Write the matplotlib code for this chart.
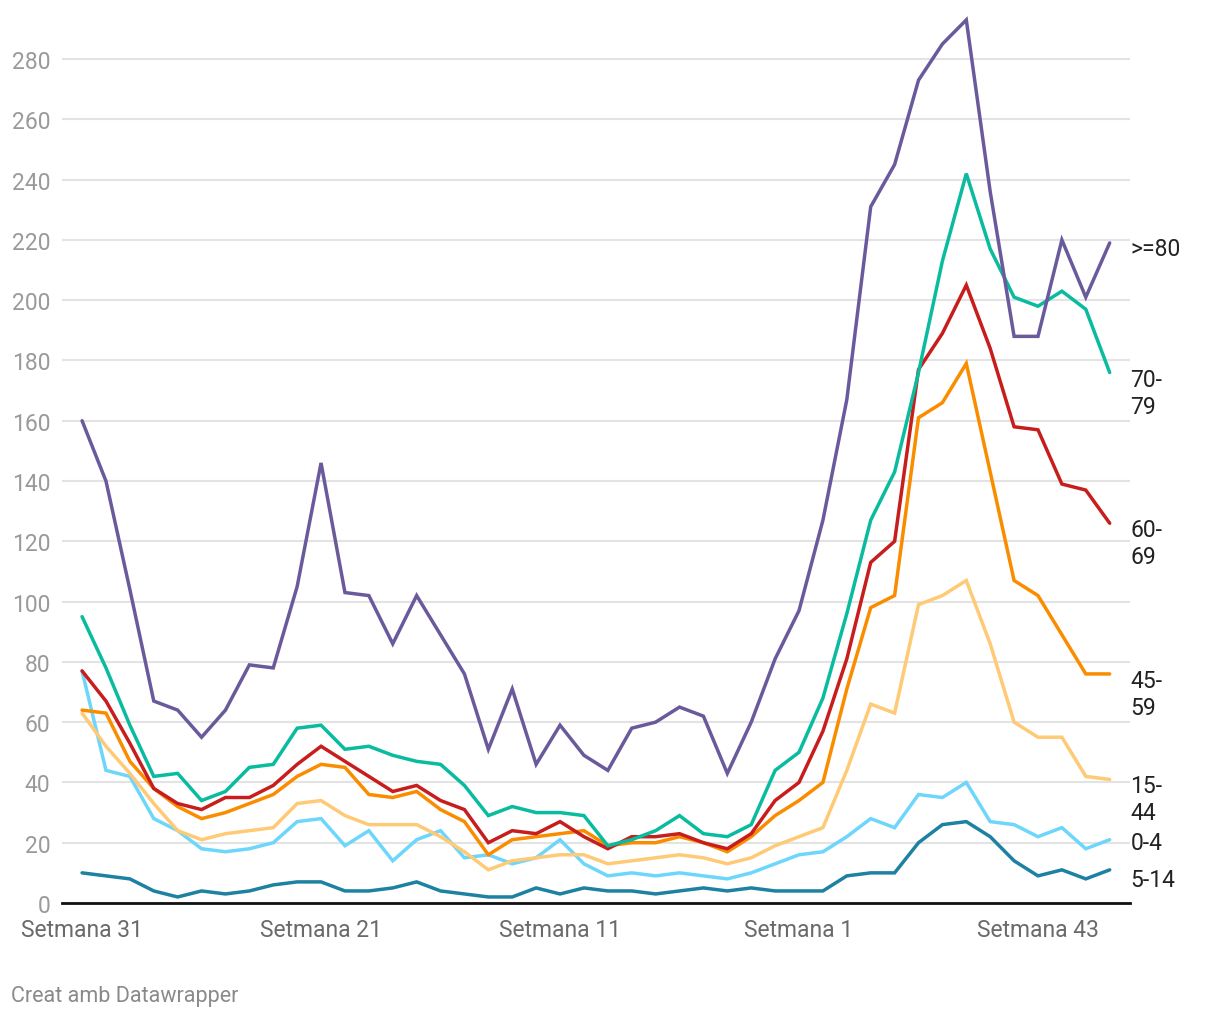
import matplotlib
matplotlib.use("Agg")
import matplotlib.pyplot as plt
import numpy as np

plt.rcParams['font.family'] = ['Roboto', 'DejaVu Sans']

# dades: casos per setmana i grup d'edat (44 setmanes)
x_ticks = [0, 10, 20, 30, 40]
x_tick_labels = ['Setmana 31', 'Setmana 21', 'Setmana 11', 'Setmana 1', 'Setmana 43']

y_ticks = [0, 20, 40, 60, 80, 100, 120, 140, 160, 180, 200, 220, 240, 260, 280]

age_80 = [160, 140, 104, 67, 64, 55, 64, 79, 78, 105, 146, 103, 102, 86, 102, 89, 76, 51, 71, 46,
          59, 49, 44, 58, 60, 65, 62, 43, 60, 81, 97, 127, 167, 231, 245, 273, 285, 293, 236, 188,
          188, 220, 201, 219]
age_70 = [95, 78, 59, 42, 43, 34, 37, 45, 46, 58, 59, 51, 52, 49, 47, 46, 39, 29, 32, 30,
          30, 29, 19, 21, 24, 29, 23, 22, 26, 44, 50, 68, 96, 127, 143, 176, 213, 242, 217, 201,
          198, 203, 197, 176]
age_60 = [77, 67, 53, 38, 33, 31, 35, 35, 39, 46, 52, 47, 42, 37, 39, 34, 31, 20, 24, 23,
          27, 22, 18, 22, 22, 23, 20, 18, 23, 34, 40, 57, 81, 113, 120, 177, 189, 205, 184, 158,
          157, 139, 137, 126]
age_45 = [64, 63, 47, 38, 32, 28, 30, 33, 36, 42, 46, 45, 36, 35, 37, 31, 27, 16, 21, 22,
          23, 24, 19, 20, 20, 22, 20, 17, 22, 29, 34, 40, 71, 98, 102, 161, 166, 179, 143, 107,
          102, 89, 76, 76]
age_15 = [63, 52, 43, 33, 24, 21, 23, 24, 25, 33, 34, 29, 26, 26, 26, 22, 17, 11, 14, 15,
          16, 16, 13, 14, 15, 16, 15, 13, 15, 19, 22, 25, 44, 66, 63, 99, 102, 107, 86, 60,
          55, 55, 42, 41]
age_0 = [77, 44, 42, 28, 24, 18, 17, 18, 20, 27, 28, 19, 24, 14, 21, 24, 15, 16, 13, 15,
         21, 13, 9, 10, 9, 10, 9, 8, 10, 13, 16, 17, 22, 28, 25, 36, 35, 40, 27, 26,
         22, 25, 18, 21]
age_5 = [10, 9, 8, 4, 2, 4, 3, 4, 6, 7, 7, 4, 4, 5, 7, 4, 3, 2, 2, 5,
         3, 5, 4, 4, 3, 4, 5, 4, 5, 4, 4, 4, 9, 10, 10, 20, 26, 27, 22, 14,
         9, 11, 8, 11]

# (etiqueta, valors, color, desplaçament vertical de l'etiqueta en punts)
series = [
    ('5-14', age_5, '#1d81a2', -5),
    ('0-4', age_0, '#6dd6fb', 0),
    ('15-\n44', age_15, '#ffca76', -2.5),
    ('45-\n59', age_45, '#fa8c00', -3),
    ('60-\n69', age_60, '#c71e1d', -3),
    ('70-\n79', age_70, '#09bb9f', -3),
    ('>=80', age_80, '#6a5a9c', -2),
]

fig = plt.figure(figsize=(12.2, 10.2), dpi=100)
ax = fig.add_axes([62 / 1220, (1020 - 904) / 1020, (1130 - 62) / 1220, (904 - 10) / 1020])

x = np.arange(len(age_80))
for label, vals, col, dy in series:
    ax.plot(x, vals, color=col, lw=2.5, solid_joinstyle='miter', solid_capstyle='round', zorder=3)
    for j, part in enumerate(label.split('\n')):
        ax.annotate(part, xy=(x[-1], vals[-1]), xytext=(15, dy - j * 19.5), textcoords='offset points',
                    va='center_baseline', ha='left', fontsize=16.5, color='#222222',
                    annotation_clip=False)

ax.set_xlim(-0.84, 43.85)
ax.set_ylim(0, (904 - 10) / 3.014)

ax.set_yticks(y_ticks)
ax.set_yticklabels([str(v) for v in y_ticks])
ax.set_xticks(x_ticks)
ax.set_xticklabels(x_tick_labels)
ax.tick_params(axis='y', length=0, pad=8.5, labelsize=16.5, labelcolor='#9a9a9a')
ax.tick_params(axis='x', length=0, pad=11, labelsize=16.5, labelcolor='#6a6a6a')

ax.grid(axis='y', color='#e3e3e3', lw=1.5, zorder=0)
ax.grid(axis='x', visible=False)
for s in ['top', 'right', 'left']:
    ax.spines[s].set_visible(False)
ax.spines['bottom'].set_color('#111111')
ax.spines['bottom'].set_linewidth(2)
ax.spines['bottom'].set_zorder(4)

fig.text(11 / 1220, 1 - 997 / 1020, 'Creat amb Datawrapper', fontsize=15.5, color='#8a8a8a',
         ha='left', va='center')

fig.savefig('out.png', dpi=100)
